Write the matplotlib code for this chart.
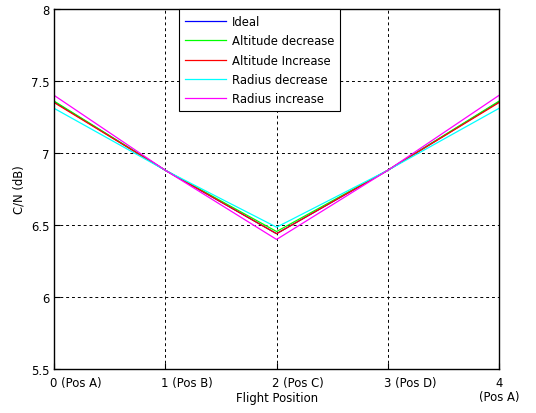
import matplotlib
matplotlib.use("Agg")
import matplotlib.pyplot as plt
import matplotlib.transforms as mtransforms

plt.rcParams['font.family'] = ['DejaVu Sans']

positions = [0, 1, 2, 3, 4]
tick_labels = ["0 (Pos A)", "1 (Pos B)", "2 (Pos C)", "3 (Pos D)", "4\n(Pos A)"]
ideal = [7.355, 6.88, 6.44, 6.88, 7.355]
alt_dec = [7.36, 6.88, 6.455, 6.88, 7.36]
alt_inc = [7.35, 6.88, 6.44, 6.88, 7.35]
rad_dec = [7.31, 6.88, 6.485, 6.88, 7.31]
rad_inc = [7.40, 6.88, 6.40, 6.88, 7.40]

series = [
    ("Ideal", ideal, "#0000ff"),
    ("Altitude decrease", alt_dec, "#00ff00"),
    ("Altitude Increase", alt_inc, "#ff0000"),
    ("Radius decrease", rad_dec, "#00ffff"),
    ("Radius increase", rad_inc, "#ff00ff"),
]

FS = 8.4

fig = plt.figure(figsize=(5.36, 4.14), dpi=100)
ax = fig.add_axes([0.101, 0.106, 0.830, 0.870])

for name, vals, col in series:
    ax.plot(positions, vals, color=col, lw=0.9, label=name)

ax.set_xlim(0, 4)
ax.set_ylim(5.5, 8)
ax.set_yticks([5.5, 6, 6.5, 7, 7.5, 8])
ax.set_yticklabels(["5.5", "6", "6.5", "7", "7.5", "8"])
ax.set_xticks(positions)
ax.set_xticklabels(tick_labels)

ax.tick_params(direction='in', length=4, labelsize=FS, color='black', width=0.8)
ax.tick_params(axis='x', pad=5)
ax.tick_params(axis='y', pad=3)
for i, lab in enumerate(ax.get_xticklabels()):
    if i < 4:
        lab.set_ha('left')
        lab.set_transform(lab.get_transform() +
                          mtransforms.ScaledTranslation(-3/72, 0, fig.dpi_scale_trans))
    else:
        lab.set_ha('center')
        lab.set_multialignment('center')
        lab.set_linespacing(1.1)

ax.grid(True, linestyle=(0, (3, 3)), color='black', lw=0.7)
for s in ax.spines.values():
    s.set_linewidth(1.0)
    s.set_color('black')

ax.set_xlabel("Flight Position", fontsize=FS)
ax.xaxis.set_label_coords(0.5, -0.062)
ax.set_ylabel("C/N (dB)", fontsize=FS, labelpad=4)

leg = ax.legend(loc='upper left', bbox_to_anchor=(0.281, 1.0), fontsize=FS,
                fancybox=False, framealpha=1, edgecolor='black',
                handlelength=3.5, borderpad=0.5, labelspacing=0.55,
                handletextpad=0.55, borderaxespad=0.0)
leg.get_frame().set_linewidth(0.8)

fig.savefig("out.png", dpi=100)
